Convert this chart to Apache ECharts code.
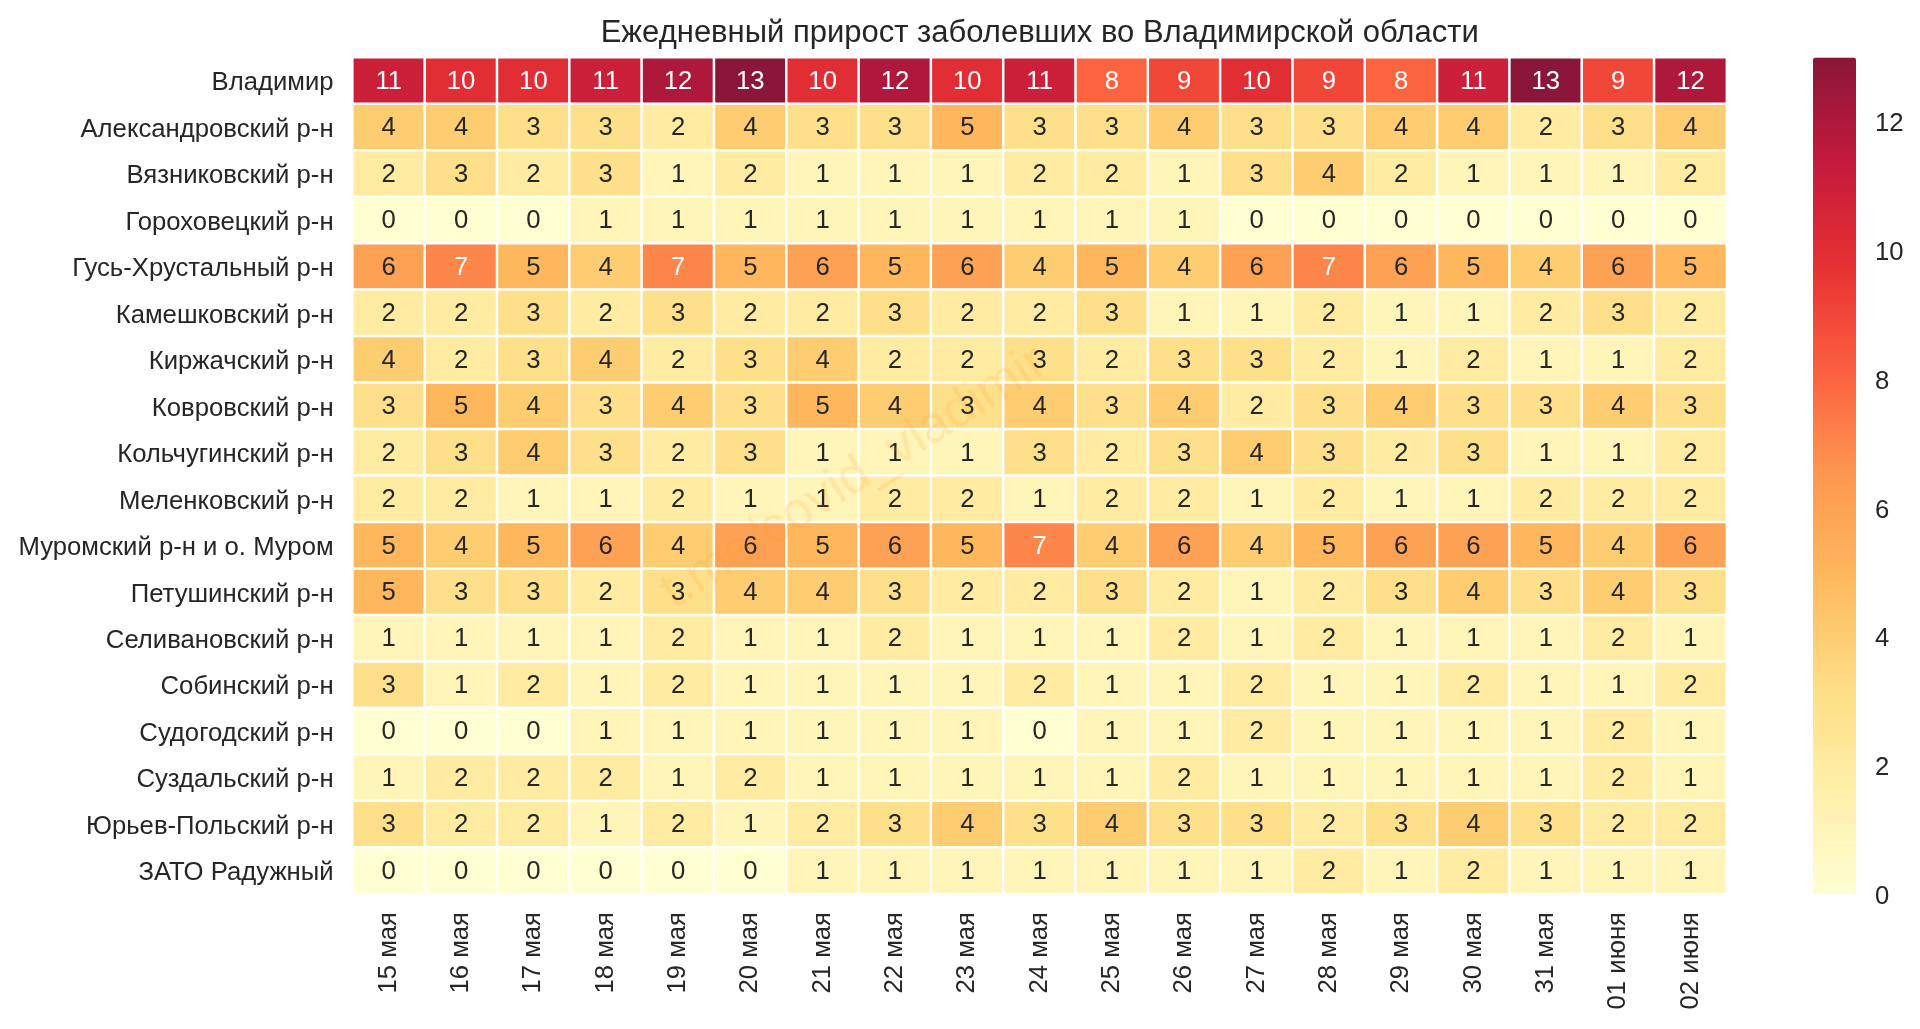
<!DOCTYPE html>
<html>
<head>
<meta charset="utf-8">
<title>Ежедневный прирост</title>
<style>
    html, body { margin: 0; padding: 0; background: #fff; }
    #main { width: 1920px; height: 1029px; }
</style>
<script src="https://cdn.jsdelivr.net/npm/echarts@6/dist/echarts.min.js"></script>
</head>
<body>
<div id="main"></div>
<script>
var days = ['15 мая','16 мая','17 мая','18 мая','19 мая','20 мая','21 мая','22 мая','23 мая','24 мая',
    '25 мая','26 мая','27 мая','28 мая','29 мая','30 мая','31 мая','01 июня','02 июня'];
var districts = ['Владимир','Александровский р-н','Вязниковский р-н','Гороховецкий р-н','Гусь-Хрустальный р-н',
    'Камешковский р-н','Киржачский р-н','Ковровский р-н','Кольчугинский р-н','Меленковский р-н',
    'Муромский р-н и о. Муром','Петушинский р-н','Селивановский р-н','Собинский р-н','Судогодский р-н',
    'Суздальский р-н','Юрьев-Польский р-н','ЗАТО Радужный'];

var vladimir = [11,10,10,11,12,13,10,12,10,11,8,9,10,9,8,11,13,9,12];
var aleksandrov = [4,4,3,3,2,4,3,3,5,3,3,4,3,3,4,4,2,3,4];
var vyazniki = [2,3,2,3,1,2,1,1,1,2,2,1,3,4,2,1,1,1,2];
var gorokhovets = [0,0,0,1,1,1,1,1,1,1,1,1,0,0,0,0,0,0,0];
var gus = [6,7,5,4,7,5,6,5,6,4,5,4,6,7,6,5,4,6,5];
var kameshkovo = [2,2,3,2,3,2,2,3,2,2,3,1,1,2,1,1,2,3,2];
var kirzhach = [4,2,3,4,2,3,4,2,2,3,2,3,3,2,1,2,1,1,2];
var kovrov = [3,5,4,3,4,3,5,4,3,4,3,4,2,3,4,3,3,4,3];
var kolchugino = [2,3,4,3,2,3,1,1,1,3,2,3,4,3,2,3,1,1,2];
var melenki = [2,2,1,1,2,1,1,2,2,1,2,2,1,2,1,1,2,2,2];
var murom = [5,4,5,6,4,6,5,6,5,7,4,6,4,5,6,6,5,4,6];
var petushki = [5,3,3,2,3,4,4,3,2,2,3,2,1,2,3,4,3,4,3];
var selivanovo = [1,1,1,1,2,1,1,2,1,1,1,2,1,2,1,1,1,2,1];
var sobinka = [3,1,2,1,2,1,1,1,1,2,1,1,2,1,1,2,1,1,2];
var sudogda = [0,0,0,1,1,1,1,1,1,0,1,1,2,1,1,1,1,2,1];
var suzdal = [1,2,2,2,1,2,1,1,1,1,1,2,1,1,1,1,1,2,1];
var yuryev = [3,2,2,1,2,1,2,3,4,3,4,3,3,2,3,4,3,2,2];
var raduzhny = [0,0,0,0,0,0,1,1,1,1,1,1,1,2,1,2,1,1,1];

var rows = [vladimir,aleksandrov,vyazniki,gorokhovets,gus,kameshkovo,kirzhach,kovrov,kolchugino,melenki,
    murom,petushki,selivanovo,sobinka,sudogda,suzdal,yuryev,raduzhny];

// YlOrRd, уже смешанный с белым (alpha 0.9)
var ramp = ['#ffffd1','#ffefaa','#fedd84','#feba5e','#fd9850','#fc603f','#e63133','#c41a3c','#8a1639'];

var textColor = '#262626';
var fontName = '"Liberation Sans", Arial, sans-serif';
var labelSize = 25.7;

var cells = [];
for (var r = 0; r < rows.length; r++) {
    for (var c = 0; c < rows[r].length; c++) {
        cells.push({
            value: [c, r, rows[r][c]],
            label: {color: rows[r][c] >= 7 ? '#fff' : textColor}
        });
    }
}

var myChart = echarts.init(document.getElementById('main'), null, {renderer: 'canvas'});
var option = {
    backgroundColor: '#fff',
    animation: false,
    textStyle: {fontFamily: fontName},
    title: {
        text: 'Ежедневный прирост заболевших во Владимирской области',
        left: 1034.7,
        top: 13,
        textAlign: 'center',
        textStyle: {fontFamily: fontName, fontSize: 31, fontWeight: 'normal', color: textColor}
    },
    grid: [
        {left: 352.6, top: 57.5, width: 1374, height: 836.5},
        // только шкала для цветовой полосы
        {left: 1813, top: 57.5, width: 43, height: 836.5}
    ],
    xAxis: [
        {
            type: 'category',
            data: days,
            gridIndex: 0,
            axisLine: {show: false},
            axisTick: {show: false},
            splitLine: {show: false},
            axisLabel: {rotate: 90, interval: 0, margin: 18, fontSize: labelSize, color: textColor, fontFamily: fontName}
        },
        {type: 'value', gridIndex: 1, show: false, min: 0, max: 1}
    ],
    yAxis: [
        {
            type: 'category',
            data: districts,
            gridIndex: 0,
            inverse: true,
            axisLine: {show: false},
            axisTick: {show: false},
            splitLine: {show: false},
            // top + маленький lineHeight: подпись чуть ниже центра строки
            axisLabel: {interval: 0, margin: 19, fontSize: labelSize, color: textColor, fontFamily: fontName, verticalAlign: 'top', lineHeight: 5}
        },
        {
            type: 'value',
            gridIndex: 1,
            position: 'right',
            min: 0,
            max: 13,
            interval: 2,
            axisLine: {show: false},
            axisTick: {show: false},
            splitLine: {show: false},
            axisLabel: {showMaxLabel: false, margin: 19, fontSize: labelSize, color: textColor, fontFamily: fontName, verticalAlign: 'top', lineHeight: 5}
        }
    ],
    visualMap: {
        type: 'continuous',
        min: 0,
        max: 13,
        dimension: 2,
        seriesIndex: 0,
        calculable: false,
        realtime: false,
        showLabel: false,
        text: ['', ''],
        padding: 0,
        itemWidth: 43,
        itemHeight: 836.5,
        left: 1813,
        top: 57.5,
        inRange: {color: ramp}
    },
    series: [{
        type: 'heatmap',
        xAxisIndex: 0,
        yAxisIndex: 0,
        data: cells,
        label: {show: true, fontSize: labelSize, fontFamily: fontName, offset: [0, 1], formatter: function (p) { return p.value[2]; }},
        itemStyle: {borderColor: '#fff', borderWidth: 2.5}
    }],
    graphic: [{
        type: 'text',
        x: 854,
        y: 478,
        rotation: 32.4 * Math.PI / 180,
        z: 100,
        silent: true,
        style: {
            text: 't.me/covid_vladimir',
            fontSize: 52,
            fontFamily: fontName,
            fill: 'rgba(255,150,30,0.14)',
            align: 'center',
            verticalAlign: 'middle'
        }
    }]
};
myChart.setOption(option);
</script>
</body>
</html>
